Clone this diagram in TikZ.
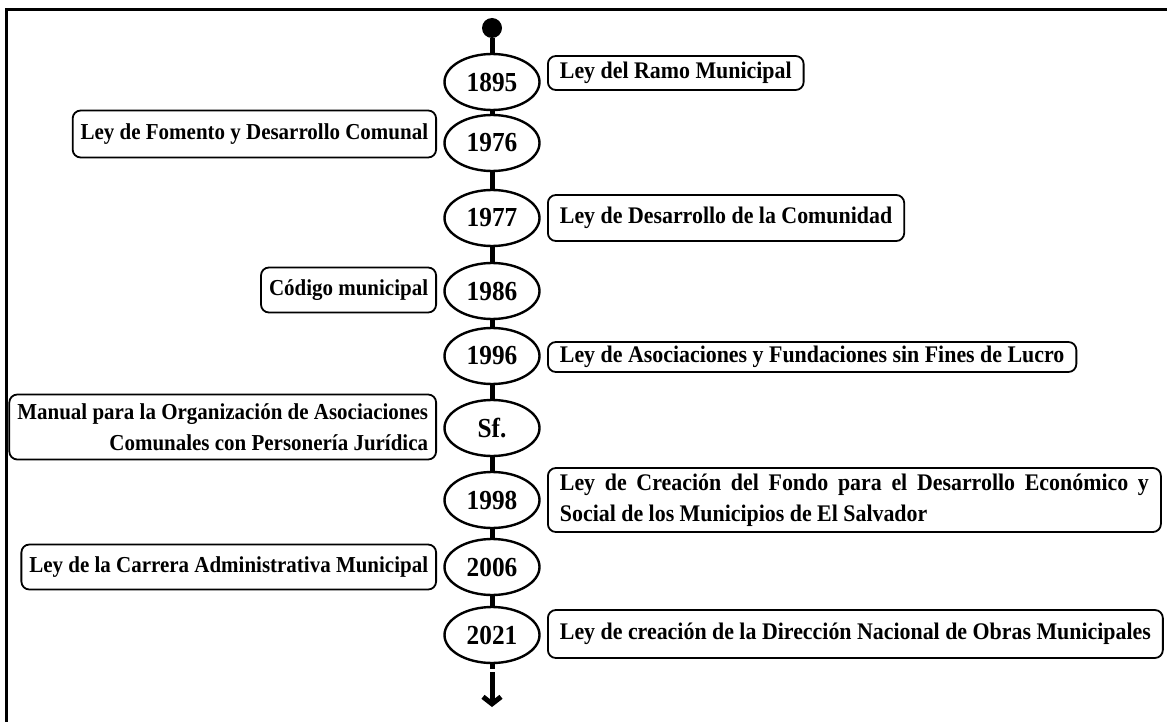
\documentclass[tikz,border=0pt]{standalone}
\usepackage{fontspec}
\setmainfont{Liberation Serif}[FakeStretch=0.92]
\usetikzlibrary{arrows.meta, shapes.geometric}

\begin{document}
\begin{tikzpicture}[x=1pt, y=-1pt]
	\def\xLine{492};
	\def\xLeft{437};
	\def\xRight{547};

	\tikzset{
		year/.style = {draw, ellipse, line width=2.4pt, minimum width=95pt, minimum height=56pt, inner sep=0pt, font=\fontsize{27.5}{30}\selectfont\bfseries},
		lawL/.style = {draw, rounded corners=8pt, line width=1.8pt, inner xsep=8pt, inner ysep=4pt, anchor=east, font=\fontsize{22.8}{31}\selectfont\bfseries},
		lawR/.style = {draw, rounded corners=8pt, line width=1.8pt, inner xsep=12pt, inner ysep=4pt, anchor=west, font=\fontsize{23.8}{31}\selectfont\bfseries},
		tl/.style = {line width=5pt}
	}

	\newcommand{\drawLink}[2]
	{
		\draw [tl] (#1) -- (#2)
	}

	\useasboundingbox (0,0) rectangle (1167,722);
	\draw [line width=3pt] (1167,10) -- (6,10) -- (6,722);

	% years on the timeline
	\node [circle, fill, inner sep=0pt, minimum size=20pt] (start) at (\xLine,28) {};
	\node [year] (y1895) at (\xLine,82) {1895};
	\node [year] (y1976) at (\xLine,143) {1976};
	\node [year] (y1977) at (\xLine,218) {1977};
	\node [year] (y1986) at (\xLine,291) {1986};
	\node [year] (y1996) at (\xLine,356) {1996};
	\node [year] (ySf) at (\xLine,428) {Sf.};
	\node [year] (y1998) at (\xLine,500) {1998};
	\node [year] (y2006) at (\xLine,567) {2006};
	\node [year] (y2021) at (\xLine,635) {2021};
	\coordinate (end) at (\xLine,707);

	% laws
	\node [lawR, minimum height=34pt] (l1895) at (\xRight,73) {Ley del Ramo Municipal};
	\node [lawL, minimum height=47pt] (l1976) at (\xLeft,134) {Ley de Fomento y Desarrollo Comunal};
	\node [lawR, minimum height=46pt] (l1977) at (\xRight,218) {Ley de Desarrollo de la Comunidad};
	\node [lawL, minimum height=45pt] (l1986) at (\xLeft,290) {Código municipal};
	\node [lawR, minimum height=30pt] (l1996) at (\xRight,357) {Ley de Asociaciones y Fundaciones sin Fines de Lucro};
	\node [lawL, minimum height=65pt, align=right] (lSf) at (\xLeft,427) {Manual para la Organización de Asociaciones\\Comunales con Personería Jurídica};
	\node [lawR, minimum height=64pt, text width=589pt, align=justify] (l1998) at (\xRight,500) {Ley de Creación del Fondo para el Desarrollo Económico y\linebreak Social de los Municipios de El Salvador};
	\node [lawL, minimum height=45pt] (l2006) at (\xLeft,567) {Ley de la Carrera Administrativa Municipal};
	\node [lawR, minimum height=48pt] (l2021) at (\xRight,634) {Ley de creación de la Dirección Nacional de Obras Municipales};

	\begin{scope}
		\drawLink{start}{y1895};
		\drawLink{y1895}{y1976};
		\drawLink{y1976}{y1977};
		\drawLink{y1977}{y1986};
		\drawLink{y1986}{y1996};
		\drawLink{y1996}{ySf};
		\drawLink{ySf}{y1998};
		\drawLink{y1998}{y2006};
		\drawLink{y2006}{y2021};
	\end{scope}

	\draw [tl, dash pattern=on 5pt off 3pt on 40pt off 0pt, -{Straight Barb[length=7pt, width=18pt]}] (y2021) -- (end);
\end{tikzpicture}
\end{document}
